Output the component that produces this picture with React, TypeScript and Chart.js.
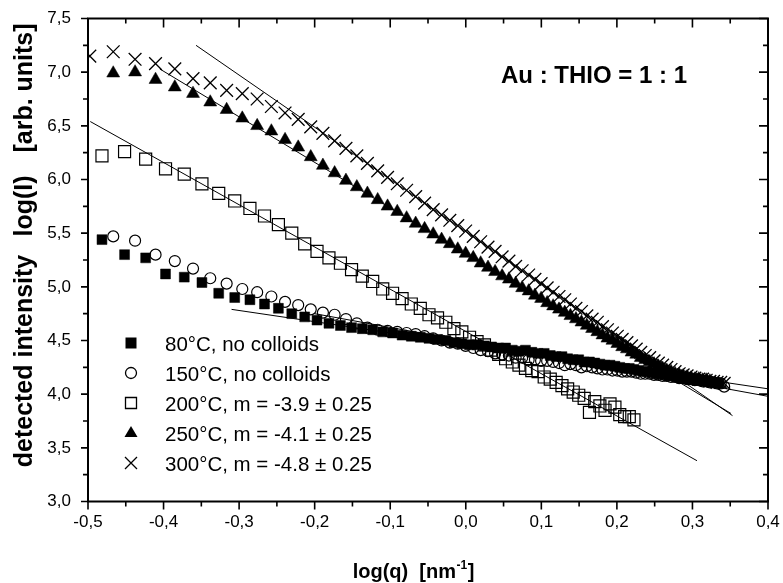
import React, { useEffect, useRef } from 'react';
import { Chart, registerables } from 'chart.js';

Chart.register(...registerables);

// log(q) grid used by the 150°C, 250°C and 300°C runs
const GRID_A = [-0.4976, -0.4666, -0.4377, -0.4106, -0.3851, -0.3610, -0.3382, -0.3165, -0.2958, -0.2761,
  -0.2573, -0.2392, -0.2218, -0.2052, -0.1891, -0.1736, -0.1586, -0.1442, -0.1302, -0.1166,
  -0.1035, -0.0907, -0.0783, -0.0663, -0.0545, -0.0431, -0.0320, -0.0211, -0.0106, -0.0002,
  0.0099, 0.0197, 0.0294, 0.0388, 0.0481, 0.0571, 0.0660, 0.0746, 0.0832, 0.0915,
  0.0997, 0.1077, 0.1156, 0.1234, 0.1310, 0.1385, 0.1458, 0.1531, 0.1602, 0.1672,
  0.1741, 0.1809, 0.1875, 0.1941, 0.2006, 0.2070, 0.2133, 0.2194, 0.2256, 0.2316,
  0.2375, 0.2434, 0.2492, 0.2549, 0.2605, 0.2661, 0.2716, 0.2770, 0.2824, 0.2877,
  0.2929, 0.2981, 0.3032, 0.3083, 0.3133, 0.3182, 0.3231, 0.3279, 0.3326, 0.3374, 0.3420];

// log(q) grid used by the 80°C and 200°C runs
const GRID_B = [-0.4815, -0.4516, -0.4237, -0.3974, -0.3726, -0.3492, -0.3270, -0.3058, -0.2857, -0.2664,
  -0.2480, -0.2303, -0.2132, -0.1969, -0.1811, -0.1659, -0.1512, -0.1370, -0.1232, -0.1099,
  -0.0969, -0.0843, -0.0721, -0.0602, -0.0487, -0.0374, -0.0264, -0.0157, -0.0052, 0.0050,
  0.0149, 0.0247, 0.0342, 0.0436, 0.0527, 0.0616, 0.0704, 0.0790, 0.0874, 0.0957,
  0.1038, 0.1118, 0.1196, 0.1273, 0.1348, 0.1422, 0.1495, 0.1567, 0.1637, 0.1707,
  0.1775, 0.1843, 0.1909, 0.1974, 0.2038, 0.2102, 0.2164, 0.2226, 0.2287, 0.2346,
  0.2405, 0.2464, 0.2521, 0.2578, 0.2634, 0.2689, 0.2744, 0.2798, 0.2851, 0.2904,
  0.2956, 0.3007, 0.3058, 0.3108, 0.3158, 0.3207, 0.3255, 0.3303, 0.3351];

// 80°C (filled squares) on GRID_B from index 0
const Y_80C = [5.44, 5.30, 5.27, 5.12, 5.09, 5.04, 4.94, 4.90, 4.88, 4.84,
  4.80, 4.75, 4.72, 4.69, 4.66, 4.64, 4.62, 4.61, 4.60, 4.58,
  4.57, 4.55, 4.54, 4.53, 4.52, 4.51, 4.50, 4.48, 4.47, 4.46,
  4.46, 4.45, 4.44, 4.43, 4.43, 4.41, 4.40, 4.41, 4.39, 4.38,
  4.38, 4.36, 4.35, 4.35, 4.33, 4.32, 4.32, 4.30, 4.30, 4.29,
  4.28, 4.27, 4.27, 4.26, 4.25, 4.24, 4.24, 4.23, 4.22, 4.21,
  4.21, 4.20, 4.19, 4.19, 4.18, 4.17, 4.17, 4.16, 4.15, 4.15,
  4.14, 4.14, 4.13, 4.13, 4.12, 4.12, 4.11, 4.11, 4.10];

// 150°C (open circles) on GRID_A from index 1
const Y_150C = [5.47, 5.43, 5.30, 5.24, 5.17, 5.08, 5.03, 4.98, 4.95, 4.91,
  4.86, 4.83, 4.79, 4.76, 4.74, 4.70, 4.66, 4.62, 4.60, 4.59,
  4.58, 4.57, 4.56, 4.54, 4.52, 4.50, 4.48, 4.47, 4.45, 4.43,
  4.41, 4.40, 4.38, 4.37, 4.36, 4.34, 4.34, 4.32, 4.32, 4.31,
  4.31, 4.30, 4.29, 4.27, 4.28, 4.27, 4.25, 4.26, 4.25, 4.24,
  4.23, 4.23, 4.22, 4.22, 4.21, 4.21, 4.21, 4.20, 4.19, 4.19,
  4.19, 4.18, 4.18, 4.17, 4.17, 4.16, 4.16, 4.15, 4.15, 4.14,
  4.14, 4.13, 4.13, 4.12, 4.12, 4.11, 4.11, 4.10, 4.10, 4.07];

// 200°C (open squares) on GRID_B from index 0
const Y_200C = [6.22, 6.26, 6.19, 6.10, 6.05, 5.96, 5.87, 5.80, 5.73, 5.66,
  5.58, 5.50, 5.40, 5.33, 5.27, 5.22, 5.16, 5.10, 5.05, 4.98,
  4.94, 4.89, 4.84, 4.80, 4.74, 4.71, 4.67, 4.61, 4.58, 4.53,
  4.49, 4.46, 4.41, 4.37, 4.33, 4.30, 4.27, 4.24, 4.22, 4.21,
  4.16, 4.14, 4.11, 4.08, 4.05, 4.02, 3.99, 3.96, 3.83, 3.93,
  3.89, 3.85, 3.91, 3.88, 3.81, 3.79, 3.79, 3.76];

// 250°C (filled triangles) on GRID_A from index 1
const Y_250C = [6.99, 7.00, 6.93, 6.86, 6.80, 6.72, 6.65, 6.57, 6.50, 6.45,
  6.37, 6.30, 6.21, 6.13, 6.06, 5.99, 5.93, 5.87, 5.81, 5.75,
  5.70, 5.64, 5.59, 5.54, 5.49, 5.44, 5.40, 5.35, 5.31, 5.27,
  5.22, 5.18, 5.14, 5.10, 5.07, 5.03, 4.99, 4.96, 4.92, 4.89,
  4.85, 4.82, 4.79, 4.76, 4.73, 4.70, 4.67, 4.64, 4.61, 4.58,
  4.55, 4.52, 4.50, 4.47, 4.44, 4.42, 4.39, 4.37, 4.34, 4.32,
  4.30, 4.28, 4.26, 4.24, 4.22, 4.21, 4.19, 4.18, 4.17, 4.16,
  4.15, 4.14, 4.14, 4.13, 4.13, 4.12];

// 300°C (crosses) on GRID_A from index 0
const Y_300C = [7.15, 7.19, 7.12, 7.08, 7.03, 6.94, 6.90, 6.83, 6.80, 6.75,
  6.68, 6.62, 6.56, 6.49, 6.43, 6.36, 6.29, 6.22, 6.15, 6.08,
  6.02, 5.96, 5.90, 5.84, 5.78, 5.72, 5.67, 5.62, 5.57, 5.52,
  5.47, 5.42, 5.37, 5.33, 5.28, 5.24, 5.19, 5.15, 5.11, 5.07,
  5.03, 4.99, 4.95, 4.91, 4.88, 4.84, 4.80, 4.77, 4.73, 4.70,
  4.67, 4.63, 4.60, 4.57, 4.54, 4.51, 4.48, 4.45, 4.42, 4.39,
  4.36, 4.34, 4.31, 4.29, 4.27, 4.25, 4.23, 4.21, 4.19, 4.18,
  4.17, 4.16, 4.15, 4.14, 4.14, 4.13, 4.12, 4.12, 4.11, 4.11, 4.10];

// fitted power-law lines [x, y] end points
const FIT_80C = [[-0.31, 4.79], [0.40, 4.05]];
const FIT_150C = [[-0.20, 4.75], [0.40, 3.98]];
const FIT_200C = [[-0.497, 6.54], [0.306, 3.38]];
const FIT_250C = [[-0.405, 7.03], [0.351, 3.82]];
const FIT_300C = [[-0.357, 7.25], [0.353, 3.80]];

const LEGEND_LABELS = [
  '80°C, no colloids',
  '150°C, no colloids',
  '200°C, m = -3.9 ± 0.25',
  '250°C, m = -4.1 ± 0.25',
  '300°C, m = -4.8 ± 0.25',
];
const ANNOTATION = 'Au : THIO = 1 : 1';
const X_TITLE = 'log(q)  [nm';
const X_TITLE_SUP = '-1';
const Y_TITLE_PARTS = ['detected intensity', 'log(I)', '[arb. units]'];

const FONT = "'Liberation Sans', Arial, Helvetica, sans-serif";

const pts = (grid: number[], start: number, ys: number[]) => ys.map((y, i) => ({ x: grid[start + i], y }));
const fitPts = (f: number[][]) => f.map(([x, y]) => ({ x, y }));
const fmt = (v: number) => (Math.abs(v) < 1e-9 ? 0 : v).toFixed(1).replace('.', ',');

function drawSymbol(ctx: CanvasRenderingContext2D, kind: string, cx: number, cy: number) {
  ctx.save();
  ctx.strokeStyle = '#000';
  ctx.fillStyle = '#000';
  ctx.lineWidth = 1.3;
  ctx.beginPath();
  if (kind === 'rectFilled') {
    ctx.rect(cx - 5.5, cy - 5.5, 11, 11);
    ctx.fill();
  } else if (kind === 'circle') {
    ctx.arc(cx, cy, 5.5, 0, Math.PI * 2);
    ctx.stroke();
  } else if (kind === 'rectOpen') {
    ctx.rect(cx - 5.5, cy - 5.5, 11, 11);
    ctx.stroke();
  } else if (kind === 'triangle') {
    ctx.moveTo(cx, cy - 7);
    ctx.lineTo(cx + 6.5, cy + 4);
    ctx.lineTo(cx - 6.5, cy + 4);
    ctx.closePath();
    ctx.fill();
  } else {
    ctx.moveTo(cx - 6, cy - 6);
    ctx.lineTo(cx + 6, cy + 6);
    ctx.moveTo(cx + 6, cy - 6);
    ctx.lineTo(cx - 6, cy + 6);
    ctx.stroke();
  }
  ctx.restore();
}

const LEGEND_KINDS = ['rectFilled', 'circle', 'rectOpen', 'triangle', 'cross'];

const decorPlugin = {
  id: 'decor',
  afterDraw(chart: any) {
    const { ctx, chartArea: a, scales } = chart;
    const xs = scales.x;
    const ys = scales.y;
    ctx.save();
    ctx.strokeStyle = '#000';
    ctx.lineWidth = 2;
    ctx.strokeRect(a.left, a.top, a.right - a.left, a.bottom - a.top);

    ctx.lineWidth = 1.6;
    ctx.beginPath();
    for (let i = 0; i <= 18; i++) {
      const px = xs.getPixelForValue(-0.5 + i * 0.05);
      const major = i % 2 === 0;
      ctx.moveTo(px, a.bottom);
      ctx.lineTo(px, a.bottom + (major ? 8 : 5));
      ctx.moveTo(px, a.top);
      ctx.lineTo(px, a.top + (major ? 9 : 5));
    }
    for (let i = 0; i <= 18; i++) {
      const py = ys.getPixelForValue(3 + i * 0.25);
      const major = i % 2 === 0;
      ctx.moveTo(a.left, py);
      ctx.lineTo(a.left - (major ? 7 : 5), py);
      ctx.moveTo(a.right, py);
      ctx.lineTo(a.right - (major ? 9 : 5), py);
    }
    ctx.stroke();

    // annotation
    ctx.fillStyle = '#000';
    ctx.font = `bold 24px ${FONT}`;
    ctx.textAlign = 'center';
    ctx.textBaseline = 'middle';
    ctx.fillText(ANNOTATION, 594, 76);

    // legend
    ctx.font = `20.5px ${FONT}`;
    ctx.textAlign = 'left';
    LEGEND_LABELS.forEach((lab, i) => {
      const y = 345 + i * 30;
      drawSymbol(ctx, LEGEND_KINDS[i], 131, y - 2);
      ctx.fillText(lab, 165, y);
    });

    // x title with superscript
    ctx.font = `bold 20px ${FONT}`;
    const w1 = ctx.measureText(X_TITLE).width;
    ctx.font = `bold 12px ${FONT}`;
    const w2 = ctx.measureText(X_TITLE_SUP).width;
    ctx.font = `bold 20px ${FONT}`;
    const w3 = ctx.measureText(']').width;
    const x0 = 413 - (w1 + w2 + w3) / 2;
    ctx.textBaseline = 'alphabetic';
    ctx.fillText(X_TITLE, x0, 578);
    ctx.font = `bold 12px ${FONT}`;
    ctx.fillText(X_TITLE_SUP, x0 + w1 + 0.5, 569);
    ctx.font = `bold 20px ${FONT}`;
    ctx.fillText(']', x0 + w1 + w2 + 1, 578);

    // y title (three pieces)
    ctx.font = `bold 25px ${FONT}`;
    ctx.textAlign = 'center';
    ctx.textBaseline = 'middle';
    const centers = [361, 206, 88];
    Y_TITLE_PARTS.forEach((t, i) => {
      ctx.save();
      ctx.translate(25, centers[i]);
      ctx.rotate(-Math.PI / 2);
      ctx.fillText(t, 0, 0);
      ctx.restore();
    });
    ctx.restore();
  },
};

export default function App() {
  const ref = useRef<HTMLCanvasElement | null>(null);
  useEffect(() => {
    if (!ref.current) return;
    const lineDs = (f: number[][]) => ({
      type: 'line' as const,
      data: fitPts(f),
      showLine: true,
      borderColor: '#000',
      borderWidth: 1,
      pointRadius: 0,
      fill: false,
    });
    const chart = new Chart(ref.current, {
      type: 'scatter',
      data: {
        datasets: [
          lineDs(FIT_300C),
          lineDs(FIT_250C),
          lineDs(FIT_200C),
          lineDs(FIT_150C),
          lineDs(FIT_80C),
          {
            label: LEGEND_LABELS[4], data: pts(GRID_A, 0, Y_300C), pointStyle: 'crossRot',
            pointRadius: 9, borderColor: '#000', borderWidth: 1.3, backgroundColor: '#000',
          },
          {
            label: LEGEND_LABELS[3], data: pts(GRID_A, 1, Y_250C), pointStyle: 'triangle',
            pointRadius: 7.5, borderColor: '#000', borderWidth: 0.5, backgroundColor: '#000',
          },
          {
            label: LEGEND_LABELS[1], data: pts(GRID_A, 1, Y_150C), pointStyle: 'circle',
            pointRadius: 5.5, borderColor: '#000', borderWidth: 1.2, backgroundColor: 'rgba(0,0,0,0)',
          },
          {
            label: LEGEND_LABELS[2], data: pts(GRID_B, 0, Y_200C), pointStyle: 'rect',
            pointRadius: 8.5, borderColor: '#000', borderWidth: 1.2, backgroundColor: 'rgba(0,0,0,0)',
          },
          {
            label: LEGEND_LABELS[0], data: pts(GRID_B, 0, Y_80C), pointStyle: 'rect',
            pointRadius: 7, borderColor: '#000', borderWidth: 0.5, backgroundColor: '#000',
          },
        ] as any,
      },
      options: {
        animation: false,
        responsive: false,
        devicePixelRatio: 1,
        layout: { padding: { top: 18.5, right: 15, left: 0, bottom: 0 } },
        plugins: { legend: { display: false }, tooltip: { enabled: false } },
        scales: {
          x: {
            type: 'linear',
            position: 'bottom',
            min: -0.5,
            max: 0.4,
            grid: { display: false, drawTicks: true, tickLength: 11 },
            border: { display: false },
            ticks: {
              stepSize: 0.1,
              padding: 0,
              color: '#000',
              font: { size: 17, family: FONT },
              callback: (v: any) => fmt(Number(v)),
            },
            afterFit: (s: any) => { s.height = 81.5; },
          },
          y: {
            type: 'linear',
            position: 'left',
            min: 3,
            max: 7.5,
            grid: { display: false, drawTicks: true, tickLength: 17 },
            border: { display: false },
            ticks: {
              stepSize: 0.5,
              padding: 0,
              color: '#000',
              font: { size: 17, family: FONT },
              callback: (v: any) => fmt(Number(v)),
            },
            afterFit: (s: any) => { s.width = 88; },
          },
        },
      } as any,
      plugins: [decorPlugin],
    });
    return () => chart.destroy();
  }, []);

  return (
    <div style={{ position: 'absolute', left: 0, top: 0, width: 783, height: 583, background: '#fff' }}>
      <canvas ref={ref} width={783} height={583} style={{ display: 'block', width: 783, height: 583 }} />
    </div>
  );
}
